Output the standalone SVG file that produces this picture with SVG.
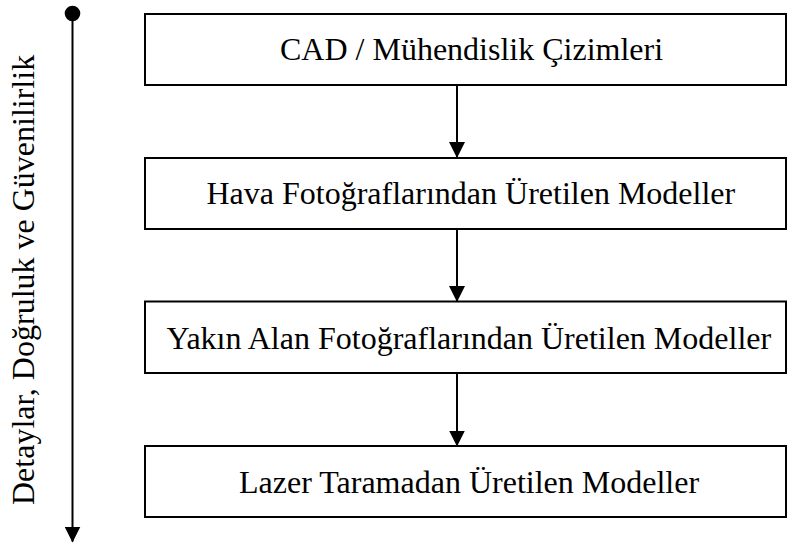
<svg xmlns="http://www.w3.org/2000/svg" width="787" height="545" viewBox="0 0 787 545">
<defs>
<style>
.box{fill:#fff;stroke:#000;stroke-width:2}
.lbl{font-family:"Liberation Serif","Times New Roman",serif;font-size:32px;fill:#000;text-anchor:start}
.conn{stroke:#000;stroke-width:2;fill:none}
</style>
<marker id="ah" markerWidth="16" markerHeight="16" viewBox="0 0 16 16" refX="15" refY="8" orient="auto" markerUnits="userSpaceOnUse">
<path d="M0,0 L16,8 L0,16 Z" fill="#000"/>
</marker>
</defs>
<rect width="787" height="545" fill="#fff"/>
<g id="axis">
<circle cx="72.5" cy="13.5" r="7.8" fill="#000"/>
<line class="conn" x1="72.5" y1="13.5" x2="72.5" y2="541.5" marker-end="url(#ah)"/>
<text class="lbl" transform="translate(33.5,505) rotate(-90)" x="0" y="0">Detaylar, Doğruluk ve Güvenilirlik</text>
</g>
<g id="n1">
<rect class="box" x="145" y="14" width="641" height="71"/>
<text class="lbl" x="280" y="59.5">CAD / Mühendislik Çizimleri</text>
</g>
<g id="n2">
<rect class="box" x="145" y="158" width="641" height="71"/>
<text class="lbl" x="206.5" y="204.3">Hava Fotoğraflarından Üretilen Modeller</text>
</g>
<g id="n3">
<rect class="box" x="145" y="301.5" width="641" height="71.5"/>
<text class="lbl" x="166.5" y="349.3">Yakın Alan Fotoğraflarından Üretilen Modeller</text>
</g>
<g id="n4">
<rect class="box" x="145" y="446" width="641" height="71"/>
<text class="lbl" x="239" y="492.7">Lazer Taramadan Üretilen Modeller</text>
</g>
<g id="connectors">
<line class="conn" x1="457" y1="85" x2="457" y2="157" marker-end="url(#ah)"/>
<line class="conn" x1="457" y1="229" x2="457" y2="301" marker-end="url(#ah)"/>
<line class="conn" x1="457" y1="373" x2="457" y2="445.5" marker-end="url(#ah)"/>
</g>
</svg>
